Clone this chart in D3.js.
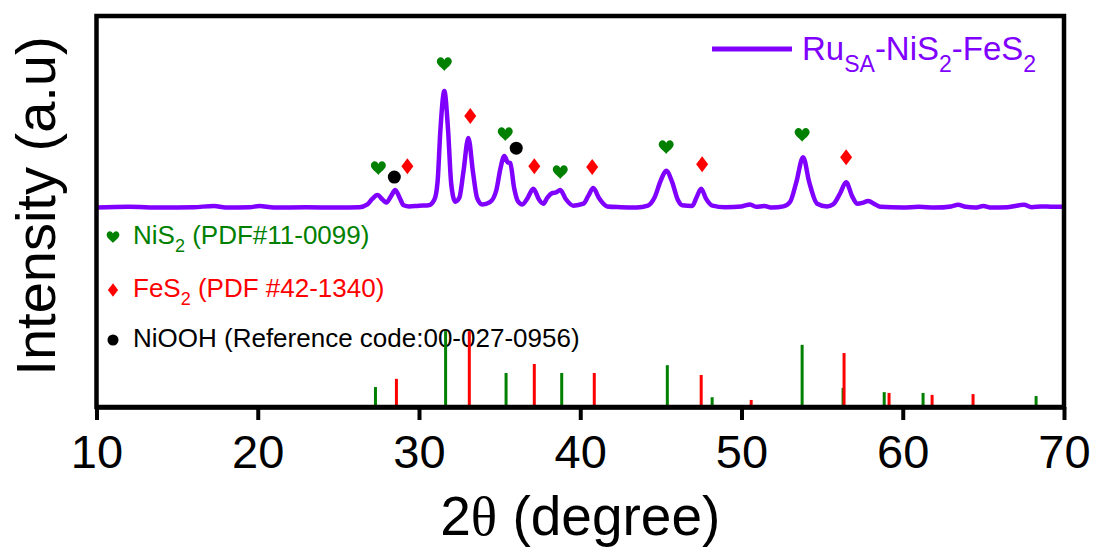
<!DOCTYPE html>
<html>
<head>
<meta charset="utf-8">
<script src="https://cdn.jsdelivr.net/npm/d3@7"></script>
<style>
  html, body { margin: 0; padding: 0; background: #fff; }
  svg { display: block; font-family: "Liberation Sans", Arial, sans-serif; }
</style>
</head>
<body>
<div id="chart"></div>
<script>
// --- data
const xTicks = [10, 20, 30, 40, 50, 60, 70];

// measured XRD pattern, [2theta, intensity]
const pattern = [
  [10, 51.0], [12, 51.2], [14, 51.0], [16, 51.1], [17.3, 51.4], [18, 51.0], [19.5, 51.1], [20.1, 51.4],
  [21, 51.0], [23, 51.1], [25, 51.0], [26.3, 51.1], [26.8, 51.8], [27.1, 53.2], [27.42, 54.2], [27.75, 53.0],
  [27.98, 52.3], [28.25, 53.8], [28.53, 55.5], [28.8, 53.5], [29.05, 51.6], [29.4, 51.3], [30.0, 51.5],
  [30.6, 51.6], [30.95, 53.0], [31.15, 57.5], [31.33, 71], [31.57, 80.8], [31.8, 71], [32.0, 57],
  [32.25, 52.5], [32.5, 53.5], [32.75, 60], [33.06, 68.8], [33.35, 60], [33.6, 53.5], [33.93, 51.8],
  [34.4, 52.4], [34.8, 55.5], [35.05, 61], [35.29, 64.2], [35.5, 62.6], [35.66, 62.4], [35.9, 56],
  [36.15, 52.5], [36.41, 51.8], [36.7, 53.2], [37.09, 55.8], [37.45, 53], [37.71, 52], [37.95, 53.5],
  [38.26, 54.7], [38.5, 54.9], [38.76, 55.5], [39.1, 53.2], [39.57, 51.5], [40.2, 52], [40.5, 54],
  [40.81, 56.0], [41.15, 53.5], [41.67, 51.3], [42.5, 51.1], [43.5, 51.0], [44.2, 51.5], [44.6, 53.5],
  [45.0, 58.0], [45.33, 60.4], [45.7, 57.5], [46.05, 53], [46.32, 51.6], [46.94, 51.4], [47.2, 53.5],
  [47.5, 55.8], [47.8, 53.3], [48.19, 51.5], [49.0, 51.1], [50.0, 51.3], [50.54, 51.8], [50.9, 51.2],
  [51.41, 51.4], [51.9, 51.0], [52.6, 51.3], [53.02, 52.5], [53.4, 57.5], [53.82, 63.9], [54.2, 57.5],
  [54.69, 52.0], [55.3, 51.3], [55.68, 51.8], [56.1, 54.5], [56.49, 57.5], [56.85, 54], [57.17, 52.0],
  [57.5, 52.2], [57.85, 52.7], [58.3, 51.8], [58.6, 51.2], [60, 51.0], [61, 51.2], [62, 51.0], [63, 51.3],
  [63.43, 51.7], [63.9, 51.2], [64.5, 51.0], [65.0, 51.4], [65.5, 51.0], [66.5, 51.1], [67.52, 51.7],
  [68, 51.1], [68.6, 51.3], [69.32, 51.2], [69.94, 51.2]
];

// reference cards, [2theta, relative height]
const nis2Sticks = [
  [27.3, 5.1], [31.65, 19.4], [35.4, 8.7], [38.85, 8.7], [45.4, 10.7], [48.18, 2.5],
  [53.76, 15.9], [56.3, 4.9], [58.85, 3.8], [61.26, 3.6], [68.27, 2.8]
];
const fes2Sticks = [
  [28.6, 7.2], [33.12, 19.4], [37.15, 11.0], [40.87, 8.7], [47.5, 8.2], [50.6, 1.8],
  [56.36, 13.8], [59.15, 3.6], [61.82, 3.1], [64.36, 3.3]
];

// phase markers above the peaks, [2theta, intensity]
const heartMarks = [[27.48, 61.1], [31.57, 87.7], [35.35, 69.8], [38.76, 60.1], [45.33, 66.5], [53.76, 69.6]];
const diamondMarks = [[29.28, 61.6], [33.18, 74.4], [37.15, 61.6], [40.74, 61.4], [47.56, 62.1], [56.49, 63.9]];
const circleMarks = [[28.47, 58.8], [36.03, 66.2]];

const phaseLabels = [
  { shape: 'heart', color: '#008000', parts: [['NiS', false], ['2', true], [' (PDF#11-0099)', false]] },
  { shape: 'diamond', color: '#ff0000', parts: [['FeS', false], ['2', true], [' (PDF #42-1340)', false]] },
  { shape: 'circle', color: '#000000', parts: [['NiOOH (Reference code:00-027-0956)', false]] }
];
const seriesLabel = [['Ru', false], ['SA', true], ['-NiS', false], ['2', true], ['-FeS', false], ['2', true]];

// --- setup
const width = 1098;
const height = 552;
const margin = { top: 16, right: 34, bottom: 145, left: 96.5 };
const purple = '#8000ff';
const green = '#008000';
const red = '#ff0000';

const svg = d3.select('#chart')
  .append('svg')
  .attr('width', width)
  .attr('height', height);

const x = d3.scaleLinear()
  .domain([10, 70])
  .range([margin.left, width - margin.right]);

const y = d3.scaleLinear()
  .domain([0, 100])
  .range([height - margin.bottom, margin.top]);

// --- shapes
const heartPath = 'M0,7 C-2,4 -7.5,1 -7.5,-2.5 C-7.5,-5 -5.5,-6.8 -3.7,-6.8 C-2,-6.8 -0.6,-5.6 0,-4 ' +
  'C0.6,-5.6 2,-6.8 3.7,-6.8 C5.5,-6.8 7.5,-5 7.5,-2.5 C7.5,1 2,4 0,7 Z';
const diamondPath = 'M0,-8 L6,0 L0,8 L-6,0 Z';

function drawShape(g, shape, color, scale) {
  if (shape === 'circle') {
    g.append('circle').attr('r', 6.5 * scale).attr('fill', color);
  } else {
    g.append('path')
      .attr('d', shape === 'heart' ? heartPath : diamondPath)
      .attr('transform', `scale(${scale})`)
      .attr('fill', color);
  }
}

// text with subscripts: each part sets its own baseline shift
function richText(t, parts, size, subSize, shift) {
  let prevSub = false;
  parts.forEach(([s, sub]) => {
    let dy = 0;
    if (sub && !prevSub) dy = shift;
    if (!sub && prevSub) dy = -shift;
    t.append('tspan')
      .attr('font-size', sub ? subSize : size)
      .attr('dy', dy)
      .text(s);
    prevSub = sub;
  });
}

// --- phase legend (bottom left)
const legend = svg.append('g');
phaseLabels.forEach((d, i) => {
  const yy = [244, 297, 347][i];
  const mark = legend.append('g').attr('transform', `translate(113,${yy - 7})`);
  drawShape(mark, d.shape, d.color, 0.85);
  const t = legend.append('text')
    .attr('x', 133)
    .attr('y', yy)
    .attr('font-size', 26)
    .attr('fill', d.color);
  richText(t, d.parts, 26, 18, 8);
});

// --- reference sticks
const sticks = svg.append('g').attr('stroke-width', 3);
sticks.selectAll('.nis2')
  .data(nis2Sticks)
  .join('line')
    .attr('stroke', green)
    .attr('x1', d => x(d[0]))
    .attr('x2', d => x(d[0]))
    .attr('y1', y(0))
    .attr('y2', d => y(d[1]));
sticks.selectAll('.fes2')
  .data(fes2Sticks)
  .join('line')
    .attr('stroke', red)
    .attr('x1', d => x(d[0]))
    .attr('x2', d => x(d[0]))
    .attr('y1', y(0))
    .attr('y2', d => y(d[1]));

// --- pattern
const line = d3.line()
  .x(d => x(d[0]))
  .y(d => y(d[1]))
  .curve(d3.curveMonotoneX);

svg.append('path')
  .datum(pattern)
  .attr('d', line)
  .attr('fill', 'none')
  .attr('stroke', purple)
  .attr('stroke-width', 4.5)
  .attr('stroke-linejoin', 'round');

// --- markers
const marks = svg.append('g');
[[heartMarks, 'heart', green], [diamondMarks, 'diamond', red], [circleMarks, 'circle', '#000']].forEach(([data, shape, color]) => {
  data.forEach(d => {
    const g = marks.append('g').attr('transform', `translate(${x(d[0])},${y(d[1])})`);
    drawShape(g, shape, color, 1);
  });
});

// --- series legend (top right)
svg.append('line')
  .attr('x1', 712).attr('x2', 792)
  .attr('y1', 49).attr('y2', 49)
  .attr('stroke', purple)
  .attr('stroke-width', 5);

const st = svg.append('text')
  .attr('x', 802)
  .attr('y', 60)
  .attr('font-size', 33)
  .attr('fill', purple);
richText(st, seriesLabel, 33, 23, 12);

// --- frame and axis
svg.append('rect')
  .attr('x', x(10))
  .attr('y', y(100))
  .attr('width', x(70) - x(10))
  .attr('height', y(0) - y(100))
  .attr('fill', 'none')
  .attr('stroke', '#000')
  .attr('stroke-width', 4.5);

const xAxis = svg.append('g')
  .attr('transform', `translate(0,${y(0)})`)
  .call(d3.axisBottom(x).tickValues(xTicks).tickSize(13).tickSizeOuter(0).tickPadding(15));

xAxis.select('.domain').attr('stroke-width', 4.5);
xAxis.selectAll('.tick line').attr('stroke-width', 4);
xAxis.selectAll('.tick text')
  .attr('font-size', 47)
  .attr('font-family', '"Liberation Sans", Arial, sans-serif')
  .attr('fill', '#000');

// --- axis titles
const xt = svg.append('text')
  .attr('x', (x(10) + x(70)) / 2)
  .attr('y', 535)
  .attr('text-anchor', 'middle')
  .attr('font-size', 55)
  .attr('fill', '#000');
xt.append('tspan').text('2');
xt.append('tspan').attr('font-family', '"Liberation Serif", "Times New Roman", serif').text('θ');
xt.append('tspan').text(' (degree)');

svg.append('text')
  .attr('transform', `translate(55,${206}) rotate(-90)`)
  .attr('text-anchor', 'middle')
  .attr('font-size', 56)
  .attr('fill', '#000')
  .text('Intensity (a.u)');
</script>
</body>
</html>
